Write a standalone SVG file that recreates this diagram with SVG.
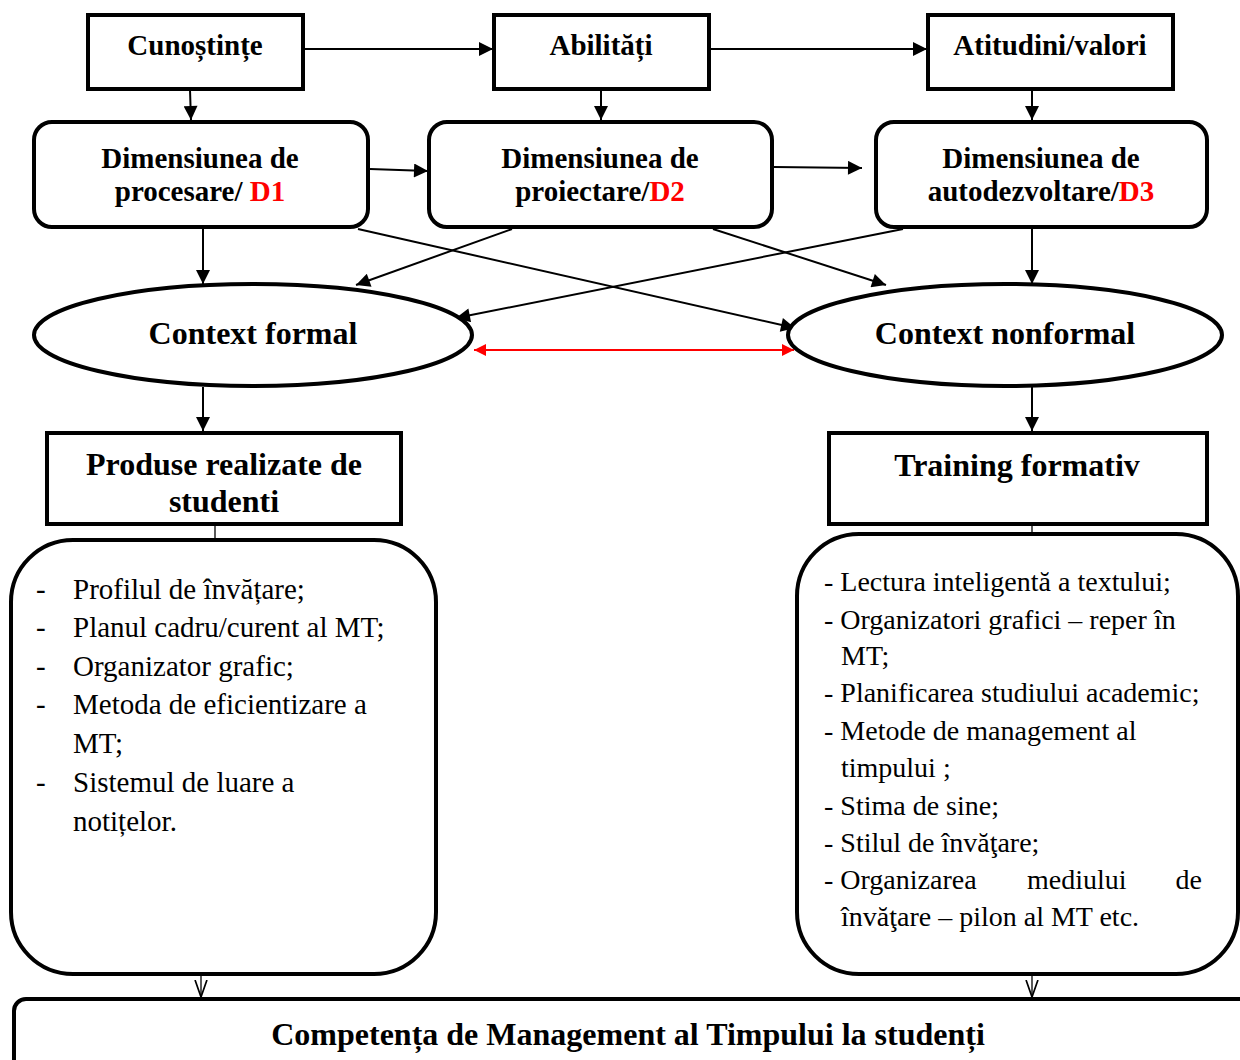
<svg xmlns="http://www.w3.org/2000/svg" width="1240" height="1060" viewBox="0 0 1240 1060">
  <defs>
    <marker id="arrBig" viewBox="0 0 10 10" refX="10" refY="5" markerWidth="16" markerHeight="14" markerUnits="userSpaceOnUse" orient="auto">
      <path d="M0,0 L10,5 L0,10 z" fill="#000"/>
    </marker>
    <marker id="arrRed" viewBox="0 0 10 10" refX="10" refY="5" markerWidth="14" markerHeight="12" markerUnits="userSpaceOnUse" orient="auto-start-reverse">
      <path d="M0,0 L10,5 L0,10 z" fill="#f00"/>
    </marker>
    <marker id="arrOpen" viewBox="0 0 10 10" refX="10" refY="5" markerWidth="17" markerHeight="17" markerUnits="userSpaceOnUse" orient="auto">
      <path d="M0,1.5 L10,5 L0,8.5" fill="none" stroke="#000" stroke-width="1"/>
    </marker>
  </defs>
  <style>
    .box { fill: #fff; stroke: #000; stroke-width: 4; }
    .hd { font-family: "Liberation Serif", "Times New Roman", serif; font-weight: bold; font-size: 29px; fill: #000; text-anchor: middle; }
    .big { font-family: "Liberation Serif", "Times New Roman", serif; font-weight: bold; font-size: 32px; fill: #000; text-anchor: middle; }
    .red { fill: #f00; }
    .li { font-family: "Liberation Serif", "Times New Roman", serif; font-size: 29px; fill: #000; }
    .lr { font-family: "Liberation Serif", "Times New Roman", serif; font-size: 28px; fill: #000; }
    .ln { stroke: #000; stroke-width: 2; fill: none; }
    .thin { stroke: #000; stroke-width: 1.3; fill: none; }
  </style>

  <!-- connectors -->
  <g id="connectors">
    <line class="ln" x1="305" y1="49" x2="493" y2="49" marker-end="url(#arrBig)"/>
    <line class="ln" x1="711" y1="49" x2="927" y2="49" marker-end="url(#arrBig)"/>
    <line class="ln" x1="190" y1="90" x2="191" y2="120" marker-end="url(#arrBig)"/>
    <line class="ln" x1="601" y1="90" x2="601" y2="120" marker-end="url(#arrBig)"/>
    <line class="ln" x1="1032" y1="90" x2="1032" y2="120" marker-end="url(#arrBig)"/>
    <line class="ln" x1="370" y1="169" x2="428" y2="171" marker-end="url(#arrBig)"/>
    <line class="ln" x1="774" y1="167" x2="862" y2="168" marker-end="url(#arrBig)"/>
    <line class="ln" x1="203" y1="229" x2="203" y2="284" marker-end="url(#arrBig)"/>
    <line class="ln" x1="1032" y1="229" x2="1032" y2="284" marker-end="url(#arrBig)"/>
    <line class="ln" x1="358" y1="229" x2="795" y2="328" marker-end="url(#arrBig)"/>
    <line class="ln" x1="512" y1="229" x2="356" y2="285" marker-end="url(#arrBig)"/>
    <line class="ln" x1="713" y1="229" x2="886" y2="285" marker-end="url(#arrBig)"/>
    <line class="ln" x1="903" y1="229" x2="456" y2="318" marker-end="url(#arrBig)"/>
    <line x1="474" y1="350" x2="794" y2="350" stroke="#f00" stroke-width="2" marker-start="url(#arrRed)" marker-end="url(#arrRed)"/>
    <line class="ln" x1="203" y1="387" x2="203" y2="431" marker-end="url(#arrBig)"/>
    <line class="ln" x1="1032" y1="387" x2="1032" y2="431" marker-end="url(#arrBig)"/>
    <line class="thin" x1="215" y1="525" x2="215" y2="540"/>
    <line class="thin" x1="1032" y1="525" x2="1032" y2="533"/>
    <line class="thin" x1="201" y1="976" x2="201" y2="997" marker-end="url(#arrOpen)"/>
    <line class="thin" x1="1032" y1="976" x2="1032" y2="997" marker-end="url(#arrOpen)"/>
  </g>

  <g id="cunostinte">
    <rect class="box" x="88" y="15" width="215" height="74"/>
    <text class="hd" x="195" y="55">Cunoștințe</text>
  </g>
  <g id="abilitati">
    <rect class="box" x="494" y="15" width="215" height="74"/>
    <text class="hd" x="601" y="55">Abilități</text>
  </g>
  <g id="atitudini">
    <rect class="box" x="928" y="15" width="245" height="74"/>
    <text class="hd" x="1050" y="55">Atitudini/valori</text>
  </g>

  <g id="dim-procesare">
    <rect class="box" x="34" y="122" width="334" height="105" rx="18"/>
    <text class="hd" x="200" y="168">Dimensiunea de</text>
    <text class="hd" x="200" y="201">procesare/ <tspan class="red">D1</tspan></text>
  </g>
  <g id="dim-proiectare">
    <rect class="box" x="429" y="122" width="343" height="105" rx="18"/>
    <text class="hd" x="600" y="168">Dimensiunea de</text>
    <text class="hd" x="600" y="201">proiectare/<tspan class="red">D2</tspan></text>
  </g>
  <g id="dim-autodezvoltare">
    <rect class="box" x="876" y="122" width="331" height="105" rx="18"/>
    <text class="hd" x="1041" y="168">Dimensiunea de</text>
    <text class="hd" x="1041" y="201">autodezvoltare/<tspan class="red">D3</tspan></text>
  </g>

  <g id="context-formal">
    <ellipse class="box" cx="253" cy="335" rx="219" ry="51"/>
    <text class="big" x="253" y="344">Context formal</text>
  </g>
  <g id="context-nonformal">
    <ellipse class="box" cx="1005" cy="335" rx="217" ry="51"/>
    <text class="big" x="1005" y="344">Context nonformal</text>
  </g>

  <g id="produse">
    <rect class="box" x="47" y="433" width="354" height="91"/>
    <text class="big" x="224" y="475">Produse realizate de</text>
    <text class="big" x="224" y="512">studenti</text>
  </g>
  <g id="training">
    <rect class="box" x="829" y="433" width="378" height="91"/>
    <text class="big" x="1017" y="476">Training formativ</text>
  </g>

  <g id="lista-produse">
    <rect class="box" x="11" y="540" width="425" height="434" rx="62"/>
    <g class="li">
      <text x="36" y="599">-</text><text x="73" y="599">Profilul de învățare;</text>
      <text x="36" y="637">-</text><text x="73" y="637">Planul cadru/curent al MT;</text>
      <text x="36" y="676">-</text><text x="73" y="676">Organizator grafic;</text>
      <text x="36" y="714">-</text><text x="73" y="714">Metoda de eficientizare a</text>
      <text x="73" y="753">MT;</text>
      <text x="36" y="792">-</text><text x="73" y="792">Sistemul de luare a</text>
      <text x="73" y="831">notițelor.</text>
    </g>
  </g>

  <g id="lista-training">
    <rect class="box" x="797" y="534" width="441" height="440" rx="62"/>
    <g class="lr">
      <text x="824" y="591">- Lectura inteligentă a textului;</text>
      <text x="824" y="629">- Organizatori grafici – reper în</text>
      <text x="841" y="665">MT;</text>
      <text x="824" y="702">- Planificarea studiului academic;</text>
      <text x="824" y="740">- Metode de management al</text>
      <text x="841" y="777">timpului ;</text>
      <text x="824" y="815">- Stima de sine;</text>
      <text x="824" y="852">- Stilul de învăţare;</text>
      <text x="824" y="889">- Organizarea</text>
      <text x="1027" y="889">mediului</text>
      <text x="1202" y="889" text-anchor="end">de</text>
      <text x="841" y="926">învăţare – pilon al MT etc.</text>
    </g>
  </g>

  <g id="competenta">
    <rect class="box" x="14" y="999" width="1240" height="90" rx="12"/>
    <text class="big" x="628" y="1045">Competența de Management al Timpului la studenți</text>
  </g>
</svg>
